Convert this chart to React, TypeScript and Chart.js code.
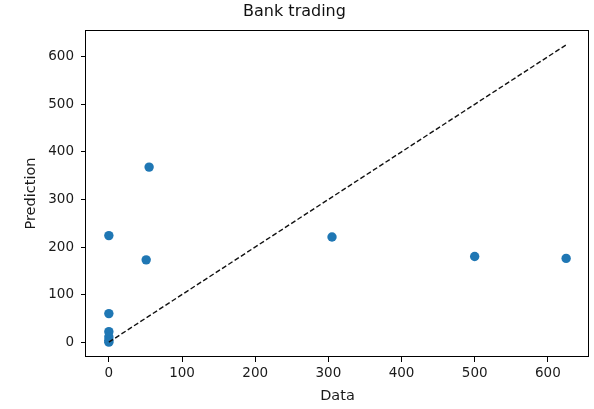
import React, { useEffect, useRef } from "react";
import { Chart, registerables } from "chart.js";

Chart.register(...registerables);

const titleText = "Bank trading";
const xLabel = "Data";
const yLabel = "Prediction";
const dataX = [625, 500, 305, 55, 51, 0, 0, 0, 0, 0, 0];
const predY = [176, 180, 221, 368, 173, 224, 60, 22, 11, 4, 0];
const idealLine = [0, 625];
const tickValues = [0, 100, 200, 300, 400, 500, 600];
const axisMin = -31.25;
const axisMax = 656.25;

const framePlugin = {
  id: "frame",
  afterDatasetsDraw(chart: any) {
    const { ctx, chartArea } = chart;
    ctx.save();
    ctx.strokeStyle = "#000";
    ctx.lineWidth = 1;
    const l = Math.round(chartArea.left) - 0.5;
    const t = Math.round(chartArea.top) + 0.5;
    const r = Math.round(chartArea.right) - 0.5;
    const b = Math.round(chartArea.bottom) - 0.5;
    ctx.strokeRect(l, t, r - l, b - t);
    ctx.restore();
  },
};

export default function App() {
  const ref = useRef<HTMLCanvasElement>(null);
  useEffect(() => {
    if (!ref.current) return;
    Chart.defaults.font.family = "'DejaVu Sans', sans-serif";
    Chart.defaults.color = "#1a1a1a";
    const points = dataX.map((x, i) => ({ x, y: predY[i] }));
    const line = idealLine.map((v) => ({ x: v, y: v }));
    const fixTicks = (s: any) => {
      s.ticks = tickValues.map((v) => ({ value: v }));
    };
    const chart = new Chart(ref.current, {
      type: "scatter",
      data: {
        datasets: [
          {
            type: "line",
            data: line,
            borderColor: "#111",
            borderWidth: 1.4,
            borderDash: [5, 2.5],
            pointRadius: 0,
            fill: false,
            order: 0,
          } as any,
          {
            data: points,
            backgroundColor: "#1f77b4",
            borderWidth: 0,
            pointRadius: 4.7,
            order: 1,
          },
        ],
      },
      options: {
        responsive: false,
        animation: false,
        layout: { padding: { left: 0, right: 5, top: 0, bottom: 0 } },
        plugins: {
          legend: { display: false },
          tooltip: { enabled: false },
          title: {
            display: true,
            text: titleText,
            color: "#111",
            font: { size: 16, weight: "normal" },
            padding: { top: 2.4, bottom: 8.4 },
          },
        },
        scales: {
          x: {
            type: "linear",
            min: axisMin,
            max: axisMax,
            afterBuildTicks: fixTicks,
            afterFit: (s: any) => {
              s.height = 52;
            },
            border: { display: false },
            grid: {
              drawOnChartArea: false,
              drawTicks: true,
              tickLength: 5,
              color: "#000",
            },
            ticks: { font: { size: 13.5 }, padding: 3, maxRotation: 0 },
            title: {
              display: true,
              text: xLabel,
              font: { size: 14.5 },
              padding: { top: 0, bottom: 4.3 },
            },
          },
          y: {
            type: "linear",
            min: axisMin,
            max: axisMax,
            afterBuildTicks: fixTicks,
            afterFit: (s: any) => {
              s.width = 86;
            },
            border: { display: false },
            grid: {
              drawOnChartArea: false,
              drawTicks: true,
              tickLength: 5,
              color: "#000",
            },
            ticks: { font: { size: 13.5 }, padding: 7 },
            title: {
              display: true,
              text: yLabel,
              font: { size: 14.5 },
              padding: { top: 22.8, bottom: 0 },
            },
          },
        },
      },
      plugins: [framePlugin],
    });
    return () => chart.destroy();
  }, []);
  return (
    <div style={{ position: "fixed", left: 0, top: 0, width: 594, height: 409, background: "#fff" }}>
      <canvas ref={ref} width={594} height={409} style={{ width: 594, height: 409, display: "block" }} />
    </div>
  );
}
